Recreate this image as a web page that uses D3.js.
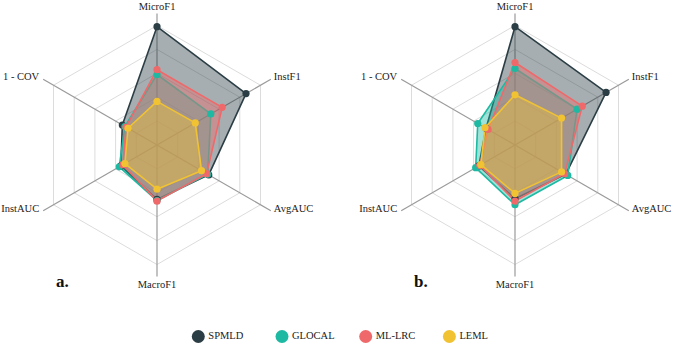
<!DOCTYPE html>
<html><head><meta charset="utf-8">
<script src="https://cdn.jsdelivr.net/npm/d3@7"></script>
<style>body{margin:0;background:#fff}svg{display:block}</style>
</head><body>
<svg id="c" width="676" height="344"></svg>
<script>
const axes = ["MicroF1","InstF1","AvgAUC","MacroF1","InstAUC","1 - COV"];
const seriesNames = ["SPMLD","GLOCAL","ML-LRC","LEML"];
const colors = ["#2c3e45","#1db9a2","#f0696a","#f1c232"];
const ringLevels = [0.2,0.4,0.6,0.8,1.0];
const panelLabels = ["a.","b."];
// panel a values per series (axis order above)
const aSPMLD  = [0.99, 0.86, 0.50, 0.455, 0.35, 0.335];
const aGLOCAL = [0.59, 0.52, 0.49, 0.465, 0.365, 0.31];
const aMLLRC  = [0.63, 0.63, 0.48, 0.47, 0.33, 0.30];
const aLEML   = [0.365, 0.37, 0.43, 0.37, 0.31, 0.28];
// panel b
const bSPMLD  = [0.99, 0.88, 0.49, 0.45, 0.35, 0.28];
const bGLOCAL = [0.64, 0.60, 0.51, 0.50, 0.38, 0.36];
const bMLLRC  = [0.69, 0.65, 0.48, 0.47, 0.34, 0.26];
const bLEML   = [0.42, 0.45, 0.45, 0.405, 0.33, 0.29];

const panels = [
  {cx:157, cy:145, label:panelLabels[0], data:[aSPMLD,aGLOCAL,aMLLRC,aLEML]},
  {cx:515, cy:145, label:panelLabels[1], data:[bSPMLD,bGLOCAL,bMLLRC,bLEML]}
];
const R = 119.5;
const FONT = '"Liberation Serif", "Times New Roman", serif';
const svg = d3.select("#c");
const r = d3.scaleLinear().domain([0,1]).range([0,R]);
const ang = d3.scalePoint().domain(axes).range([0, 300]); // degrees clockwise from top
function pt(axis, v){
  const a = (ang(axis) - 90) * Math.PI/180;
  return [r(v)*Math.cos(a), r(v)*Math.sin(a)];
}
const line = d3.line().curve(d3.curveLinearClosed);

panels.forEach(p => {
  const g = svg.append("g").attr("transform", `translate(${p.cx},${p.cy})`);
  g.selectAll("path.ring").data(ringLevels).join("path")
    .attr("d", lv => line(axes.map(a => pt(a, lv))))
    .attr("fill","none").attr("stroke","#dcdcdc").attr("stroke-width",1);
  g.selectAll("line.ax").data(axes).join("line")
    .attr("x1",0).attr("y1",0)
    .attr("x2", a => pt(a,1.1)[0]).attr("y2", a => pt(a,1.1)[1])
    .attr("stroke","#9a9a9a").attr("stroke-width",1.2);
  axes.forEach(a => {
    const [x,y] = pt(a,1.1);
    let anchor="middle", dx=0, dy=0, base="auto";
    if (Math.abs(x) > 1) { anchor = x>0 ? "start":"end"; dx = x>0 ? 3 : -4; dy = y<0 ? -2 : -1; base="middle"; }
    else { dy = y<0 ? -4 : 12; }
    g.append("text").attr("x",x+dx).attr("y",y+dy)
      .attr("text-anchor",anchor).attr("dominant-baseline", base)
      .style("font-family",FONT).style("font-size","10.5px").attr("fill","#222")
      .text(a);
  });
  p.data.forEach((vals,i) => {
    g.append("path")
      .attr("d", line(axes.map((a,k) => pt(a, vals[k]))))
      .attr("fill", colors[i]).attr("fill-opacity", 0.42)
      .attr("stroke", colors[i]).attr("stroke-width", 1.6).attr("stroke-linejoin","round");
  });
  p.data.forEach((vals,i) => {
    g.selectAll(null).data(vals).join("circle")
      .attr("cx",(v,k)=>pt(axes[k],v)[0]).attr("cy",(v,k)=>pt(axes[k],v)[1])
      .attr("r",3.6).attr("fill",colors[i]);
  });
  svg.append("text").attr("x", p.cx-101).attr("y", 287)
    .style("font-family",FONT).style("font-weight","bold").style("font-size","17px")
    .attr("fill","#111").text(p.label);
});

const lg = svg.append("g");
const lx = d3.scaleLinear().domain([0,1]).range([198.3, 282]);
seriesNames.forEach((s,i) => {
  lg.append("circle").attr("cx", lx(i)).attr("cy", 336.5).attr("r", 6.5).attr("fill", colors[i]);
  lg.append("text").attr("x", lx(i)+10).attr("y", 336.5).attr("dominant-baseline","middle")
    .style("font-family",FONT).style("font-size","10.5px").attr("fill","#222").text(s);
});
</script>
</body></html>
